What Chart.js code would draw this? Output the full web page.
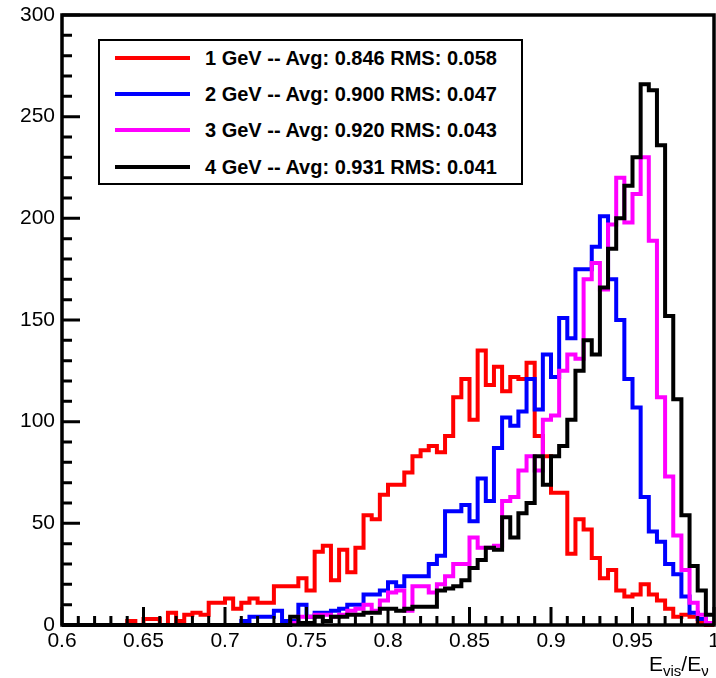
<!DOCTYPE html>
<html>
<head>
<meta charset="utf-8">
<script src="https://cdn.jsdelivr.net/npm/chart.js@4.4.1/dist/chart.umd.min.js"></script>
<style>
  html, body { margin: 0; padding: 0; background: #fff; overflow: hidden; }
  #wrap { position: relative; width: 716px; height: 678px; }
  #legend {
    position: absolute; left: 98px; top: 39px; width: 421px; height: 142px;
    border: 2.5px solid #000; background: #fff;
    font: bold 20px "Liberation Sans", Arial, Helvetica, sans-serif; color: #000;
  }
  #legend .swatch { position: absolute; left: 15px; width: 75px; height: 4px; }
  #legend .label { position: absolute; left: 105px; line-height: 20px; white-space: nowrap; }
  #xtitle {
    position: absolute; left: 649px; top: 652px; line-height: 1;
    font: 21px "Liberation Sans", Arial, Helvetica, sans-serif; color: #000; white-space: nowrap;
  }
  #xtitle span { font-size: 15px; vertical-align: -5px; }
</style>
</head>
<body>
<div id="wrap">
  <canvas id="hist" width="716" height="678"></canvas>
  <div id="legend"></div>
  <div id="xtitle">E<span>vis</span>/E<span>&nu;</span></div>
</div>
<script>
// bins: 80 bins of width 0.005 between 0.6 and 1.0
const xMin = 0.6;
const xMax = 1.0;
const binWidth = 0.005;
const binEdges = Array.from({ length: 81 }, (_, i) => +(xMin + i * binWidth).toFixed(3));

const energies = ['1 GeV', '2 GeV', '3 GeV', '4 GeV'];
const avgs = ['0.846', '0.900', '0.920', '0.931'];
const rmss = ['0.058', '0.047', '0.043', '0.041'];
const colors = ['#ff0000', '#0000ff', '#ff00ff', '#000000'];

const counts1GeV = [
  0, 0, 0, 0, 0, 0, 0, 0,
  2, 0, 3, 3, 0, 6, 2, 5,
  6, 5, 11, 11, 13, 8, 11, 13,
  11, 11, 19, 19, 19, 23, 17, 36,
  39, 22, 37, 26, 38, 54, 52, 64,
  69, 69, 75, 83, 86, 88, 85, 93,
  112, 121, 101, 135, 118, 127, 115, 122,
  121, 129, 93, 83, 65, 65, 35, 52,
  47, 33, 23, 27, 17, 14, 15, 20,
  15, 12, 8, 4, 5, 4, 1, 0
];
const counts2GeV = [
  0, 0, 0, 0, 0, 0, 0, 0,
  0, 0, 0, 0, 0, 0, 0, 0,
  0, 0, 0, 0, 0, 0, 2, 4,
  4, 4, 7, 2, 2, 10, 4, 6,
  6, 7, 8, 10, 10, 15, 15, 17,
  21, 19, 24, 24, 24, 30, 34, 56,
  56, 59, 51, 72, 61, 87, 102, 98,
  105, 121, 106, 133, 122, 151, 141, 175,
  175, 186, 201, 170, 150, 121, 107, 63,
  46, 41, 30, 25, 14, 6, 3, 1
];
const counts3GeV = [
  0, 0, 0, 0, 0, 0, 0, 0,
  0, 0, 0, 0, 0, 0, 0, 0,
  0, 0, 0, 0, 0, 0, 0, 0,
  0, 0, 0, 0, 1, 4, 4, 5,
  5, 4, 5, 7, 8, 10, 7, 12,
  16, 17, 7, 19, 19, 16, 20, 24,
  30, 30, 43, 38, 38, 39, 61, 63,
  76, 83, 76, 101, 103, 125, 133, 131,
  170, 178, 165, 197, 220, 198, 212, 230,
  189, 112, 73, 44, 27, 11, 5, 1
];
const counts4GeV = [
  0, 0, 0, 0, 0, 0, 0, 0,
  0, 0, 0, 0, 0, 0, 0, 0,
  0, 0, 0, 0, 0, 0, 0, 0,
  0, 0, 0, 0, 4, 1, 1, 4,
  2, 4, 4, 5, 5, 6, 6, 8,
  8, 7, 8, 9, 9, 9, 17, 18,
  19, 22, 28, 32, 38, 37, 53, 43,
  55, 60, 83, 69, 83, 88, 101, 125,
  140, 133, 166, 185, 200, 216, 230, 266,
  263, 236, 152, 111, 54, 29, 17, 5
];
const allCounts = [counts1GeV, counts2GeV, counts3GeV, counts4GeV];

const yTicks = [0, 50, 100, 150, 200, 250, 300];
const font = '"Liberation Sans", Arial, Helvetica, sans-serif';

// histogram outline: one point per bin low edge, plus the upper edge
function stepPoints(vals) {
  return binEdges.map((x, i) => ({ x: x, y: vals[Math.min(i, vals.length - 1)] }));
}

// ROOT style frame with ticks pointing inward
const rootFrame = {
  id: 'rootFrame',
  afterDraw(chart) {
    const { ctx, chartArea: a, scales: { x, y } } = chart;
    ctx.save();
    ctx.strokeStyle = '#000';
    ctx.lineWidth = 3;
    ctx.beginPath();
    for (let v = 0; v <= 300; v += 10) {
      const py = y.getPixelForValue(v);
      const len = v % 50 === 0 ? 18 : 10;
      ctx.moveTo(a.left, py);
      ctx.lineTo(a.left + len, py);
    }
    for (let k = 0; k <= 40; k++) {
      const px = x.getPixelForValue(xMin + k * 0.01);
      const len = k % 5 === 0 ? 18 : 9;
      ctx.moveTo(px, a.bottom);
      ctx.lineTo(px, a.bottom - len);
    }
    ctx.stroke();
    ctx.lineWidth = 3.5;
    ctx.strokeRect(a.left, a.top, a.right - a.left, a.bottom - a.top);
    ctx.restore();
  }
};

new Chart(document.getElementById('hist'), {
  type: 'line',
  data: {
    datasets: energies.map((e, i) => ({
      label: e,
      data: stepPoints(allCounts[i]),
      borderColor: colors[i],
      borderWidth: 4,
      stepped: true,
      fill: false,
      pointRadius: 0,
      clip: false,
      order: energies.length - i,
    })),
  },
  options: {
    responsive: false,
    animation: false,
    layout: { padding: { top: 15, right: 2, left: 0, bottom: 0 } },
    plugins: { legend: { display: false }, tooltip: { enabled: false } },
    scales: {
      x: {
        type: 'linear',
        min: xMin,
        max: xMax,
        grid: { display: false, drawTicks: false },
        border: { display: false },
        ticks: {
          stepSize: 0.05,
          autoSkip: false,
          maxRotation: 0,
          padding: 4,
          color: '#000',
          font: { family: font, size: 21 },
          callback: (v) => String(parseFloat(Number(v).toFixed(2))),
        },
        afterFit: (s) => { s.height = 53; s.paddingLeft = 0; s.paddingRight = 0; },
      },
      y: {
        min: 0,
        max: 300,
        grid: { display: false, drawTicks: false },
        border: { display: false },
        afterBuildTicks: (s) => { s.ticks = yTicks.map((v) => ({ value: v })); },
        ticks: {
          padding: 7,
          color: '#000',
          font: { family: font, size: 21 },
        },
        afterFit: (s) => { s.width = 62; s.paddingTop = 0; s.paddingBottom = 0; },
      },
    },
  },
  plugins: [rootFrame],
});

// legend box
const legend = document.getElementById('legend');
energies.forEach((e, i) => {
  const cy = 17 + i * 36.2;
  const sw = document.createElement('div');
  sw.className = 'swatch';
  sw.style.top = (cy - 2) + 'px';
  sw.style.background = colors[i];
  legend.appendChild(sw);
  const lb = document.createElement('div');
  lb.className = 'label';
  lb.style.top = (cy - 10) + 'px';
  lb.textContent = `${e} -- Avg: ${avgs[i]} RMS: ${rmss[i]}`;
  legend.appendChild(lb);
});
</script>
</body>
</html>
